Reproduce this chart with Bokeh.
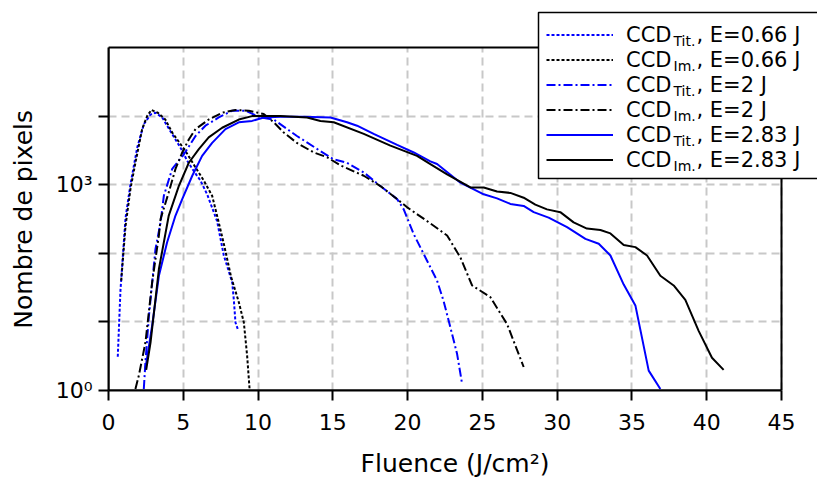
from bokeh.plotting import figure
from bokeh.models import (FixedTicker, Legend, LegendItem, Label, Range1d, BoxAnnotation)
from bokeh.embed import file_html
from bokeh.resources import INLINE

# ---------------- data ----------------
x_tit_066 = [0.62, 0.8, 1.14, 1.47, 1.92, 2.36, 2.8, 3.14, 3.59, 4.14, 4.81, 5.26, 5.7,
             6.15, 6.6, 7.26, 7.71, 8.27, 8.38, 8.49, 8.64]
y_tit_066 = [3.1, 29, 330, 1020, 3470, 7590, 10500, 11200, 9550, 6030, 3470, 2240, 1580,
             1150, 720, 295, 93, 38, 21, 9.8, 7.9]

x_im_066 = [0.85, 1.14, 1.47, 1.8, 2.25, 2.58, 2.87, 3.3, 3.8, 4.26, 5.15, 5.82, 6.37,
            6.93, 7.37, 7.71, 8.2, 8.71, 9.05, 9.27, 9.43]
y_im_066 = [40, 251, 871, 2090, 6460, 10000, 12300, 11200, 8900, 5750, 3090, 1780, 1150,
            690, 282, 138, 45, 19.5, 9.8, 3.2, 1.07]

x_tit_2 = [2.36, 2.47, 2.7, 3.14, 3.48, 3.7, 4.26, 5.03, 5.82, 6.48, 7.37, 8.27, 9.16,
           10.16, 11.05, 12.6, 14.17, 15.06, 15.95, 17.07, 18.18, 19.3, 19.74, 20.41,
           21.3, 21.97, 22.41, 22.86, 23.31, 23.64]
y_tit_2 = [1.05, 2.6, 12, 115, 280, 690, 1700, 2750, 5130, 7240, 9550, 12000, 12000,
           9550, 8900, 5130, 3090, 2340, 2090, 1510, 955, 617, 437, 190,
           78, 40, 20, 8.3, 3.4, 1.26]

x_im_2 = [1.8, 2.03, 2.47, 2.92, 3.37, 3.48, 4.03, 4.48, 4.93, 5.37, 5.82, 6.7, 7.6,
          8.49, 9.38, 10.38, 11.05, 11.72, 12.6, 13.72, 14.62, 15.51, 17.07, 18.18,
          19.3, 19.97, 21.3, 22.64, 23.53, 24.31, 25.53, 26.65, 27.76]
y_im_2 = [1.05, 1.66, 5.0, 38, 182, 316, 776, 1700, 2950, 4570, 6460, 8910, 11200,
          12300, 12000, 10700, 8130, 5750, 4070, 2950, 2510, 1910, 1350, 955,
          617, 468, 295, 182, 87, 34, 23, 9.3, 2.2]

x_tit_283 = [2.47, 2.92, 3.37, 3.92, 4.48, 4.93, 5.6, 6.26, 6.93, 7.82, 8.71, 9.6, 10.38,
             11.5, 13.0, 14.84, 15.95, 16.62, 17.73, 19.3, 20.41, 21.52, 21.97, 23.53,
             25.09, 25.98, 26.87, 27.76, 28.43, 29.43, 30.66, 31.89, 32.78, 33.56, 34.45,
             35.23, 36.12, 36.9]
y_tit_283 = [2.1, 8.9, 47, 145, 355, 617, 1350, 2630, 4070, 6460, 8130, 8510, 9550,
             9770, 9770, 9550, 8130, 7240, 5500, 3800, 2950, 2190, 2000, 1070,
             724, 631, 525, 490, 398, 331, 240, 162, 138, 93, 35,
             17.4, 1.95, 1.05]

x_im_283 = [2.52, 2.81, 3.37, 4.03, 4.7, 5.37, 6.04, 6.7, 7.6, 8.71, 9.6, 11.5, 13.28,
            14.17, 15.06, 17.07, 18.85, 20.63, 21.52, 22.64, 24.2, 25.09, 25.98, 26.87,
            27.76, 28.54, 29.32, 30.21, 31.1, 31.99, 32.89, 33.56, 34.45, 35.23, 36.01,
            36.9, 37.79, 38.57, 39.46, 40.35, 41.13]
y_im_283 = [2.0, 5.0, 59, 355, 955, 2090, 3310, 4900, 6760, 8910, 10000, 10000, 9550,
            8510, 8130, 5500, 3720, 2630, 2000, 1410, 912, 912, 794, 759,
            646, 513, 437, 398, 282, 229, 219, 195, 132, 123, 93,
            47, 34, 21, 7.4, 3.0, 2.0]

series_main = ["CCD", "CCD", "CCD", "CCD", "CCD", "CCD"]
series_sub = ["Tit.", "Im.", "Tit.", "Im.", "Tit.", "Im."]
series_energy = ["E=0.66 J", "E=0.66 J", "E=2 J", "E=2 J", "E=2.83 J", "E=2.83 J"]

x_ticks = [0, 5, 10, 15, 20, 25, 30, 35, 40, 45]
y_ticks = [1, 10, 100, 1000, 10000]
y_tick_labels = {1: "10\u2070", 10: "", 100: "", 1000: "10\u00b3", 10000: ""}

X_MIN, X_MAX = 0, 45          # axis limits
Y_MIN, Y_MAX = 1, 1e5

x_label = "Fluence (J/cm\u00b2)"
y_label = "Nombre de pixels"

# ---------------- styling / layout ----------------
FONT = "DejaVu Sans"
FS = "22px"
FS_LEG = "21px"
FS_SUB = "14px"
FS_AX = "25px"
BLUE = "#0000ff"
BLACK = "#000000"
styles = [
    (BLUE, "3 2"),
    (BLACK, "3 2"),
    (BLUE, "9 3 2 3"),
    (BLACK, "9 3 2 3"),
    (BLUE, "solid"),
    (BLACK, "solid"),
]
xs = [x_tit_066, x_im_066, x_tit_2, x_im_2, x_tit_283, x_im_283]
ys = [y_tit_066, y_im_066, y_tit_2, y_im_2, y_tit_283, y_im_283]

# The drawing frame is extended up and right so that the legend (which in the
# original overflows the axes box) is not clipped; the axes box itself is
# 673 x 343 px inside it.
AX_W, AX_H = 673, 343
FR_W, FR_H = 709, 390
x_end = X_MIN + (X_MAX - X_MIN) * FR_W / AX_W
y_end = 10 ** (5 * FR_H / AX_H)

p = figure(frame_width=FR_W, frame_height=FR_H,
           x_range=Range1d(X_MIN, x_end), y_range=Range1d(Y_MIN, y_end), y_axis_type="log",
           output_backend="svg", toolbar_location=None,
           min_border_left=108, min_border_right=0, min_border_top=0, min_border_bottom=89)
p.background_fill_color = "white"
p.border_fill_color = "white"
p.outline_line_color = None

# grid
p.xgrid.ticker = FixedTicker(ticks=x_ticks)
p.ygrid.ticker = FixedTicker(ticks=y_ticks)
for g in (p.xgrid[0], p.ygrid[0]):
    g.grid_line_color = "#c8c8c8"
    g.grid_line_width = 2
    g.grid_line_dash = "8 5"
p.xgrid[0].bounds = (X_MIN, X_MAX)
p.ygrid[0].bounds = (Y_MIN, Y_MAX)
try:
    p.xgrid[0].cross_bounds = (Y_MIN, Y_MAX)
    p.ygrid[0].cross_bounds = (X_MIN, X_MAX)
except Exception:
    pass

renderers = []
for x, y, (c, d) in zip(xs, ys, styles):
    r = p.line(x, y, line_color=c, line_dash=d, line_width=2)
    renderers.append(r)

# axes box (top / right spines)
p.add_layout(BoxAnnotation(left=X_MIN, right=X_MAX, bottom=Y_MIN, top=Y_MAX,
                           fill_color=None, fill_alpha=0,
                           line_color=BLACK, line_alpha=1.0, line_width=2))

# axes
for ax in (p.xaxis[0], p.yaxis[0]):
    ax.axis_line_color = BLACK
    ax.axis_line_width = 2
    ax.major_tick_line_color = BLACK
    ax.major_tick_line_width = 2
    ax.major_tick_out = 10
    ax.major_tick_in = 0
    ax.minor_tick_line_color = None
    ax.major_label_text_font = FONT
    ax.major_label_text_font_size = FS
    ax.major_label_text_color = BLACK
    ax.axis_label_text_font = FONT
    ax.axis_label_text_font_size = FS_AX
    ax.axis_label_text_font_style = "normal"
    ax.axis_label_text_color = BLACK

p.xaxis.bounds = (X_MIN, X_MAX)
p.yaxis.bounds = (Y_MIN, Y_MAX)
p.xaxis.ticker = FixedTicker(ticks=x_ticks)
p.yaxis.ticker = FixedTicker(ticks=y_ticks)
p.yaxis.major_label_overrides = y_tick_labels
# axis labels are centred on the (extended) frame: pad with no-break spaces so
# that they sit centred on the axes box, as in the original
p.xaxis.axis_label = x_label + "\u00a0" * 2
p.yaxis.axis_label = y_label + "\u00a0" * 6
p.xaxis.major_label_standoff = 13
p.yaxis.major_label_standoff = 6
p.xaxis.axis_label_standoff = 16
p.yaxis.axis_label_standoff = 15

# legend: white box, then sub/energy labels, then the (transparent) legend
LEG_X, LEG_TOP = 430, 378      # screen units, frame-relative
PAD, ROW, GW, STAND = 8, 25, 67, 13
n = len(renderers)
leg_h = 2 * PAD + n * ROW
p.add_layout(BoxAnnotation(left=LEG_X, right=LEG_X + 300, bottom=LEG_TOP - leg_h, top=LEG_TOP,
                           left_units="screen", right_units="screen",
                           bottom_units="screen", top_units="screen",
                           fill_color="white", fill_alpha=1.0,
                           line_color=BLACK, line_alpha=1.0, line_width=1.5))

ROW0 = 356                      # centre of first legend row (screen units)
text_x = LEG_X + PAD + GW + STAND
sub_x = text_x + 47
rest_x = sub_x + 23
for i in range(n):
    yc = ROW0 - ROW * i
    p.add_layout(Label(x=sub_x, y=yc - 6, x_units="screen", y_units="screen",
                       text=series_sub[i], text_font=FONT, text_font_size=FS_SUB,
                       text_baseline="middle", text_color=BLACK))
    p.add_layout(Label(x=rest_x, y=yc, x_units="screen", y_units="screen",
                       text=", " + series_energy[i], text_font=FONT, text_font_size=FS_LEG,
                       text_baseline="middle", text_color=BLACK))

items = [LegendItem(label=m, renderers=[r]) for m, r in zip(series_main, renderers)]
legend = Legend(items=items, location=(LEG_X + 8, LEG_TOP - leg_h + 6), orientation="vertical",
                padding=PAD, spacing=0, margin=0, glyph_width=GW, glyph_height=ROW,
                label_height=ROW, label_width=180, label_standoff=STAND,
                label_text_font=FONT, label_text_font_size=FS_LEG, label_text_color=BLACK,
                border_line_color=None, background_fill_alpha=0.0)
p.add_layout(legend)

open("out.html", "w").write(file_html(p, INLINE))
